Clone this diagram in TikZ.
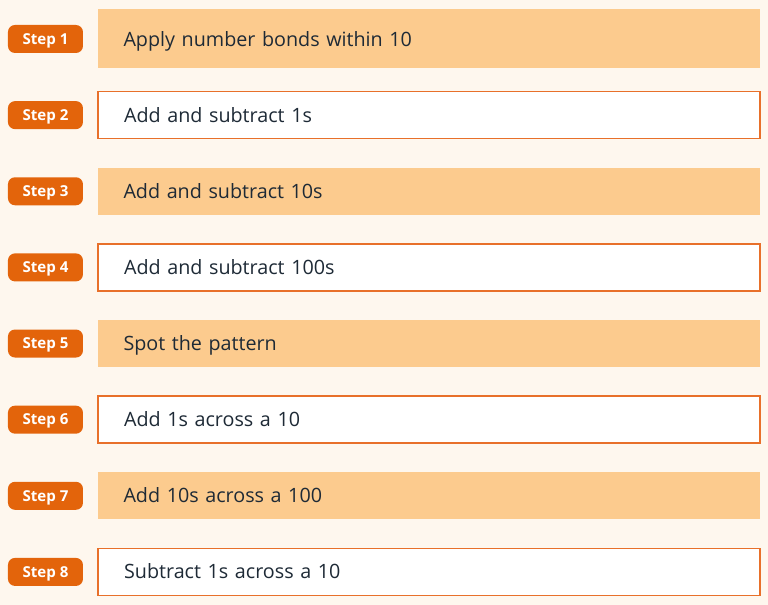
\documentclass[tikz,border=0pt]{standalone}
\usepackage{fontspec}
\setmainfont{Open Sans}
\usepackage{xcolor}
\usetikzlibrary{positioning}

\definecolor{paper}{HTML}{FEF7EE}
\definecolor{stepOrange}{HTML}{E3640B}
\definecolor{boxFill}{HTML}{FCCB8E}
\definecolor{boxLine}{HTML}{E8702A}
\definecolor{ink}{HTML}{1E2A36}

\begin{document}
\begin{tikzpicture}
\tikzstyle{badge} = [rectangle, fill=stepOrange, text=white, minimum width=56.25pt, minimum height=21pt, rounded corners=5.25pt, inner sep=0pt, text height=8pt, text depth=0pt, font=\fontsize{11.3}{13}\selectfont\bfseries]
\tikzstyle{stepbox} = [rectangle, text=ink, text width=457.5pt, inner xsep=19.5pt, inner ysep=0pt, minimum height=35.25pt, text height=10.6pt, text depth=0pt, align=left, font=\fontsize{14.8}{17}\selectfont]
\tikzstyle{filled} = [stepbox, fill=boxFill]
\tikzstyle{framed} = [stepbox, fill=white, draw=boxLine, line width=1.3pt]

% page
\fill[paper] (0,0) rectangle (576pt,-453.75pt);
\useasboundingbox (0,0) rectangle (576pt,-453.75pt);

% step badges
\node (s1) [badge] at (34.1pt,-29.25pt) {Step 1};
\node (s2) [badge, below=35.7pt of s1] {Step 2};
\node (s3) [badge, below=35.7pt of s2] {Step 3};
\node (s4) [badge, below=35.7pt of s3] {Step 4};
\node (s5) [badge, below=35.7pt of s4] {Step 5};
\node (s6) [badge, below=35.7pt of s5] {Step 6};
\node (s7) [badge, below=35.7pt of s6] {Step 7};
\node (s8) [badge, below=35.7pt of s7] {Step 8};

% step texts
\node (t1) [filled, minimum height=44.25pt, right=10.5pt of s1] {Apply number bonds within 10};
\node (t2) [framed, right=10.5pt of s2] {Add and subtract 1s};
\node (t3) [filled, right=10.5pt of s3] {Add and subtract 10s};
\node (t4) [framed, right=10.5pt of s4] {Add and subtract 100s};
\node (t5) [filled, right=10.5pt of s5] {Spot the pattern};
\node (t6) [framed, right=10.5pt of s6] {Add 1s across a 10};
\node (t7) [filled, right=10.5pt of s7] {Add 10s across a 100};
\node (t8) [framed, right=10.5pt of s8] {Subtract 1s across a 10};

\end{tikzpicture}
\end{document}
